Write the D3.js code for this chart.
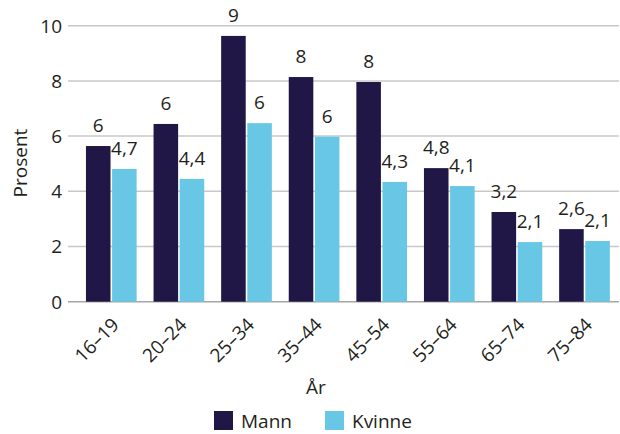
<!DOCTYPE html>
<html><head><meta charset="utf-8">
<script src="https://cdn.jsdelivr.net/npm/d3@7"></script>
<style>
body{margin:0;background:#fff;}
text{font-family:"Open Sans",sans-serif;fill:#231f20;}
</style></head>
<body>
<svg id="c" width="620" height="434"></svg>
<script>
const categories = ["16–19","20–24","25–34","35–44","45–54","55–64","65–74","75–84"];
const series = ["Mann","Kvinne"];
const mannValues = [5.64,6.44,9.63,8.14,7.96,4.84,3.25,2.63];
const kvinneValues = [4.81,4.45,6.47,5.98,4.34,4.19,2.16,2.2];
const mannLabels = ["6","6","9","8","8","4,8","3,2","2,6"];
const kvinneLabels = ["4,7","4,4","6","6","4,3","4,1","2,1","2,1"];
const yTicks = [0,2,4,6,8,10];
const colors = {"Mann":"#201747","Kvinne":"#69c7e6"};

const svg = d3.select("#c");
const y = d3.scaleLinear().domain([0,10]).range([301.7,25.7]);
const x = d3.scaleBand().domain(categories).range([77.5,618.3]).paddingInner(0.25).paddingOuter(0.125);
const xs = d3.scaleBand().domain(series).range([0,x.bandwidth()]).paddingInner(0.06);
const fs = 19;

// gridlines
svg.append("g").selectAll("line").data(yTicks).join("line")
  .attr("x1",68).attr("x2",619)
  .attr("y1",d=>y(d)).attr("y2",d=>y(d))
  .attr("stroke",d=>d===0?"#a6a6a6":"#c8c8c8").attr("stroke-width",1.5);

// y tick labels
svg.append("g").selectAll("text").data(yTicks).join("text")
  .attr("x",62).attr("y",d=>y(d)+6.8).attr("text-anchor","end")
  .attr("font-size",fs).text(d=>d);

const data = categories.map((c,i)=>({c, vals:[
  {s:"Mann",v:mannValues[i],l:mannLabels[i]},
  {s:"Kvinne",v:kvinneValues[i],l:kvinneLabels[i]}]}));

const g = svg.append("g").selectAll("g").data(data).join("g")
  .attr("transform",d=>`translate(${x(d.c)},0)`);
g.selectAll("rect").data(d=>d.vals).join("rect")
  .attr("x",d=>xs(d.s)).attr("width",xs.bandwidth())
  .attr("y",d=>y(d.v)).attr("height",d=>y(0)-y(d.v))
  .attr("fill",d=>colors[d.s]);
g.selectAll("text").data(d=>d.vals).join("text")
  .attr("x",d=>xs(d.s)+xs.bandwidth()/2).attr("y",d=>y(d.v)-14)
  .attr("text-anchor","middle").attr("font-size",fs).text(d=>d.l);

// x tick labels
svg.append("g").selectAll("text").data(categories).join("text")
  .attr("transform",d=>`translate(${x(d)+x.bandwidth()/2+9},326) rotate(-45)`)
  .attr("text-anchor","end").attr("font-size",fs).text(d=>d);

// axis titles
svg.append("text").attr("x",316).attr("y",394).attr("text-anchor","middle")
  .attr("font-size",fs).text("År");
svg.append("text").attr("transform","translate(27,163) rotate(-90)")
  .attr("text-anchor","middle").attr("font-size",fs).text("Prosent");

// legend
const legX = [214,325];
const lg = svg.append("g").selectAll("g").data(series).join("g")
  .attr("transform",(d,i)=>`translate(${legX[i]},411)`);
lg.append("rect").attr("width",19).attr("height",19).attr("fill",d=>colors[d]);
lg.append("text").attr("x",27).attr("y",17).attr("font-size",fs).text(d=>d);
</script>
</body></html>
